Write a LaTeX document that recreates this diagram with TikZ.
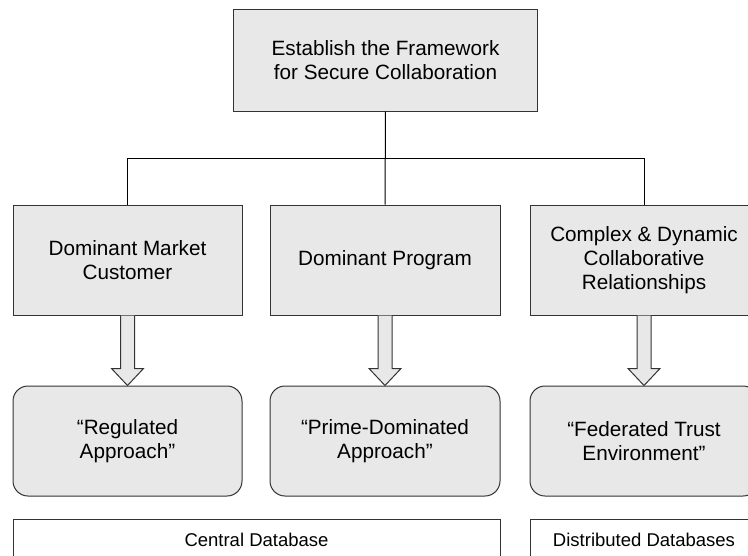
\documentclass[tikz,border=0pt]{standalone}
\usepackage{fontspec}
\setmainfont{Liberation Sans}
\usepackage{tikz}
\usetikzlibrary{calc}
\usetikzlibrary{positioning}
\definecolor{mgrey}{rgb}{0.91, 0.91, 0.91}
\definecolor{mline}{rgb}{0.2, 0.2, 0.2}
\tikzset{box/.style = {draw=mline, fill=mgrey, line width=1pt, inner sep=0, align=center,
                       font=\fontsize{20.7}{24}\selectfont}}
\tikzset{rbox/.style = {box, rounded corners=15pt}}
\tikzset{dbbox/.style = {draw=mline, fill=white, line width=1pt, inner sep=0,
                         font=\fontsize{18.5}{22}\selectfont}}
\tikzset{link/.style = {draw=black, line width=1pt}}
\tikzset{fat/.style = {draw=mline, fill=mgrey, line width=1pt, line join=miter}}
\newcommand{\fatarrow}[2]{%
  \draw [fat] ($(#1.south)+(-7,0)$) -- ($(#2.north)+(-7,-17)$) -- ($(#2.north)+(-16,-17)$)
    -- (#2.north) -- ($(#2.north)+(16,-17)$) -- ($(#2.north)+(7,-17)$) -- ($(#1.south)+(7,0)$);}
\begin{document}
\begin{tikzpicture}[x=1pt, y=-1pt]
      \useasboundingbox (0, 0) rectangle (748, 555);

      \node [box, minimum width=304, minimum height=102] (top) at (385.5, 60) {Establish the Framework\\for Secure Collaboration};

      \node [box, minimum width=229, minimum height=110] (cust) at (127.5, 260) {Dominant Market\\Customer};
      \node [box, minimum width=230, minimum height=110] (prog) at (385, 260) {Dominant Program};
      \node [box, minimum width=228, minimum height=110] (cplx) at (644, 260) {Complex \& Dynamic\\Collaborative\\Relationships};

      \node [rbox, minimum width=229, minimum height=110] (reg) at (127.5, 441) {``Regulated\\Approach''};
      \node [rbox, minimum width=230, minimum height=110] (prime) at (385, 441) {``Prime-Dominated\\Approach''};
      \node [rbox, minimum width=228, minimum height=110] (fed) at (644, 441) {``Federated Trust\\Environment''};

      \node [dbbox, minimum width=487, minimum height=42] (central) at (256.5, 540) {Central Database};
      \node [dbbox, minimum width=228, minimum height=42] (distr) at (644, 540) {Distributed Databases};

      % tree lines
      \coordinate (bus) at (385.5, 158);
      \draw [link] (top.south) -- (prog.north);
      \draw [link] (cust.north) -- (cust.north |- bus) -- (cplx.north |- bus) -- (cplx.north);

      % block arrows
      \fatarrow{cust}{reg}
      \fatarrow{prog}{prime}
      \fatarrow{cplx}{fed}
    \end{tikzpicture}
\end{document}
